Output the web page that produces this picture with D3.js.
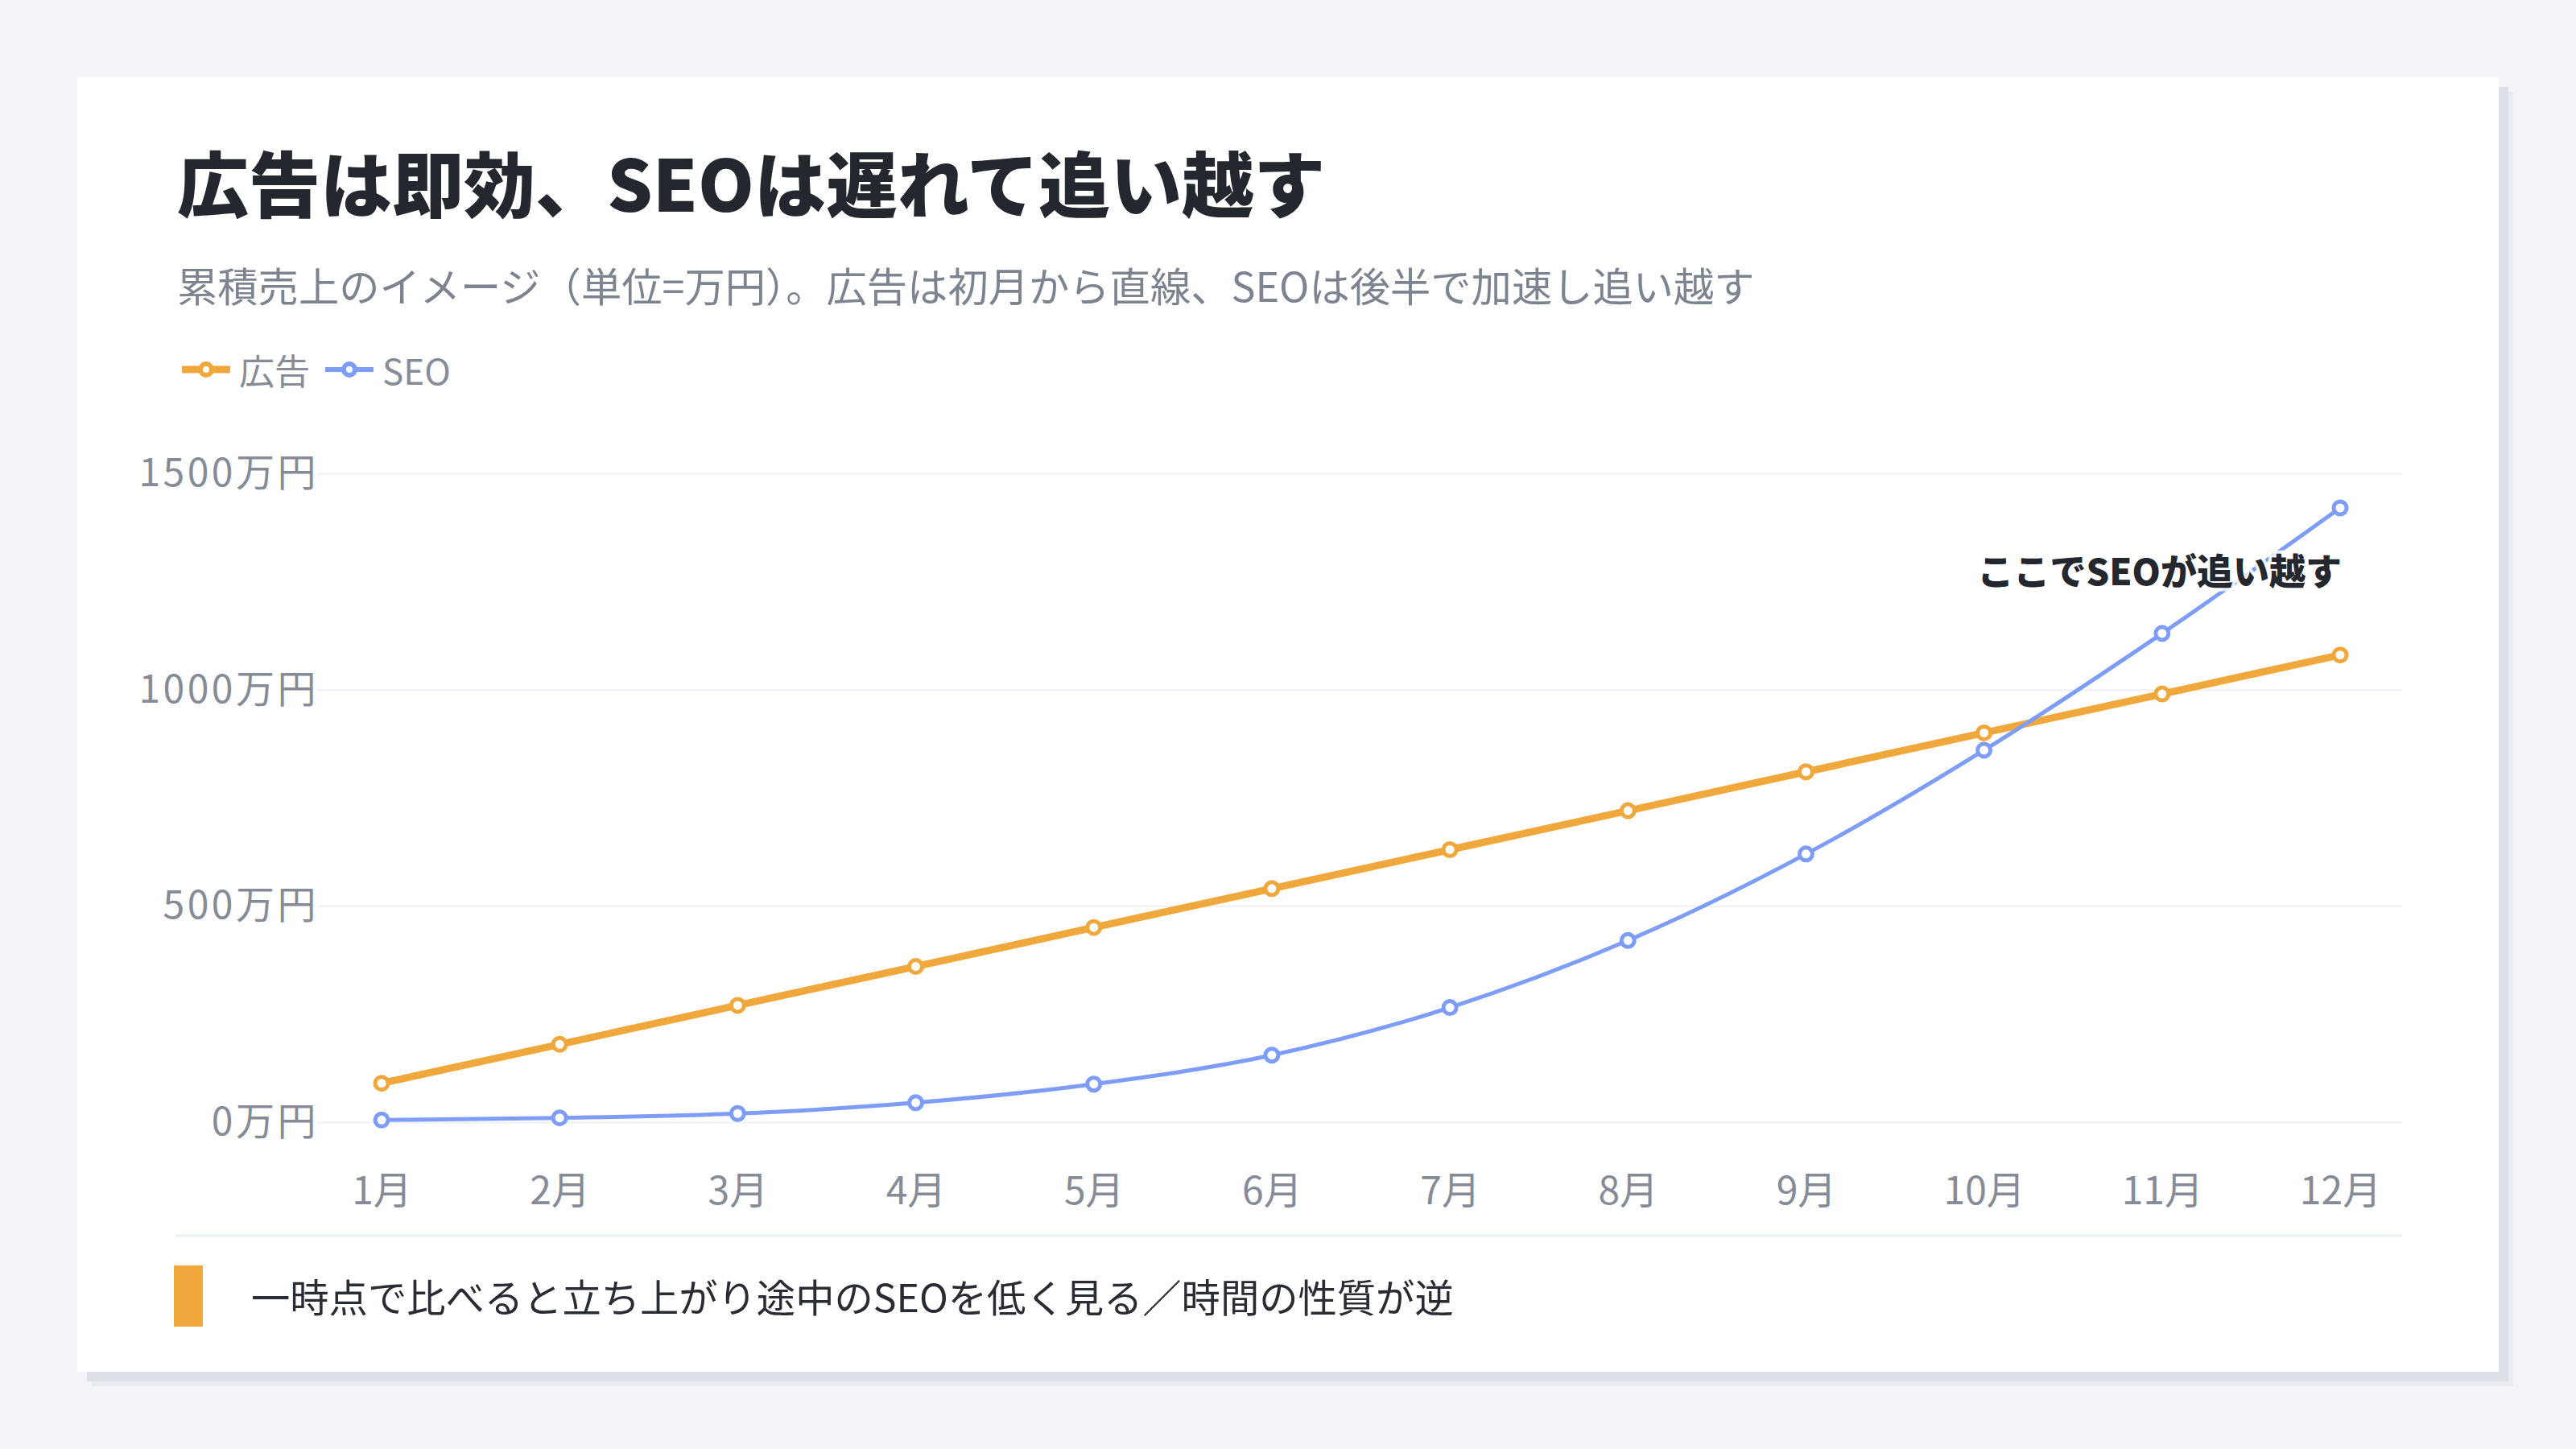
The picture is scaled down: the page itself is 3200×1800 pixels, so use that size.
<!DOCTYPE html>
<html lang="ja">
<head>
<meta charset="utf-8">
<title>広告は即効、SEOは遅れて追い越す</title>
<script src="https://cdn.jsdelivr.net/npm/d3@7"></script>
<style>
  body { margin: 0; background: #f3f4f8; }
  text { font-family: "Noto Sans CJK JP", "Noto Sans", sans-serif; }
</style>
</head>
<body>
<script>
// data (万円, cumulative)
var months = ["1月", "2月", "3月", "4月", "5月", "6月", "7月", "8月", "9月", "10月", "11月", "12月"];
var adSales = [90, 180, 270, 360, 450, 540, 630, 720, 810, 900, 990, 1080];
var seoSales = [5, 10, 20, 45, 88, 155, 265, 420, 620, 860, 1130, 1420];
var yTicks = [0, 500, 1000, 1500];
var seriesNames = ["広告", "SEO"];

var W = 3200, H = 1800;
var orange = "#f0a83c", blue = "#7d9df8";

var svg = d3.select("body").append("svg")
  .attr("width", W)
  .attr("height", H);

svg.append("rect").attr("width", W).attr("height", H).attr("fill", "#f3f4f8");

// card + hard shadow
svg.append("rect").attr("x", 114).attr("y", 114).attr("width", 3008).attr("height", 1608).attr("fill", "#e9ebf0");
svg.append("rect").attr("x", 108).attr("y", 108).attr("width", 3008).attr("height", 1608).attr("fill", "#dcdfe6");
svg.append("rect").attr("x", 96).attr("y", 96).attr("width", 3008).attr("height", 1608).attr("fill", "#ffffff");

// title + subtitle
svg.append("text")
  .attr("x", 220).attr("y", 224)
  .attr("dominant-baseline", "central")
  .attr("font-size", 89).attr("font-weight", 900)
  .attr("fill", "#25272e")
  .text("広告は即効、SEOは遅れて追い越す");

svg.append("text")
  .attr("x", 220).attr("y", 353)
  .attr("dominant-baseline", "central")
  .attr("font-size", 50.3)
  .attr("fill", "#7d838f")
  .text("累積売上のイメージ（単位=万円）。広告は初月から直線、SEOは後半で加速し追い越す");

// legend
var legendColors = [orange, blue];
var legendX = [226, 404];
var lg = svg.selectAll("g.legend").data(seriesNames).enter().append("g")
  .attr("class", "legend")
  .attr("transform", function(d, i) { return "translate(" + legendX[i] + ",459)"; });
lg.append("line")
  .attr("x1", 0).attr("x2", 60)
  .attr("stroke", function(d, i) { return legendColors[i]; })
  .attr("stroke-width", function(d, i) { return i == 0 ? 9 : 6; });
lg.append("circle")
  .attr("cx", 30).attr("r", 7)
  .attr("fill", "#fff")
  .attr("stroke", function(d, i) { return legendColors[i]; })
  .attr("stroke-width", 6);
lg.append("text")
  .attr("x", 71)
  .attr("dominant-baseline", "central")
  .attr("font-size", 44)
  .attr("fill", "#878c98")
  .text(function(d) { return d; });

// scales
var gridLeft = 394, gridRight = 2984;
var x = d3.scalePoint().domain(months).range([474, 2907]);
var y = d3.scaleLinear().domain([0, 1500]).range([1394, 588]);

// y axis + grid
var yAxis = svg.append("g")
  .attr("transform", "translate(" + gridLeft + ",0)")
  .call(d3.axisLeft(y).tickValues(yTicks).tickSize(-(gridRight - gridLeft)).tickPadding(-2)
    .tickFormat(function(d) { return d + "万円"; }));
yAxis.select(".domain").remove();
yAxis.selectAll(".tick line").attr("stroke", "#eef0f4").attr("stroke-width", 2);
yAxis.selectAll(".tick text")
  .attr("font-size", 48)
  .attr("letter-spacing", 3.5)
  .attr("fill", "#868b97")
  .attr("font-family", "\"Noto Sans CJK JP\", sans-serif");

// x axis
var xAxis = svg.append("g")
  .attr("transform", "translate(0,1394)")
  .call(d3.axisBottom(x).tickSize(0).tickPadding(68));
xAxis.select(".domain").remove();
xAxis.selectAll(".tick text")
  .attr("font-size", 48)
  .attr("fill", "#868b97")
  .attr("font-family", "\"Noto Sans CJK JP\", sans-serif");

// separator
svg.append("line")
  .attr("x1", 218).attr("x2", gridRight)
  .attr("y1", 1535).attr("y2", 1535)
  .attr("stroke", "#edf0f4").attr("stroke-width", 3);

// lines
var adLine = d3.line()
  .x(function(d, i) { return x(months[i]); })
  .y(function(d) { return y(d); });
var seoLine = d3.line()
  .x(function(d, i) { return x(months[i]); })
  .y(function(d) { return y(d); })
  .curve(d3.curveMonotoneX);

svg.append("path")
  .datum(adSales)
  .attr("d", adLine)
  .attr("fill", "none")
  .attr("stroke", orange)
  .attr("stroke-width", 9)
  .attr("stroke-linejoin", "round");

svg.append("path")
  .datum(seoSales)
  .attr("d", seoLine)
  .attr("fill", "none")
  .attr("stroke", blue)
  .attr("stroke-width", 5);

svg.selectAll("circle.ad")
  .data(adSales)
  .enter().append("circle")
  .attr("class", "ad")
  .attr("cx", function(d, i) { return x(months[i]); })
  .attr("cy", function(d) { return y(d); })
  .attr("r", 8)
  .attr("fill", "#fff")
  .attr("stroke", orange)
  .attr("stroke-width", 5);

svg.selectAll("circle.seo")
  .data(seoSales)
  .enter().append("circle")
  .attr("class", "seo")
  .attr("cx", function(d, i) { return x(months[i]); })
  .attr("cy", function(d) { return y(d); })
  .attr("r", 8)
  .attr("fill", "#fff")
  .attr("stroke", blue)
  .attr("stroke-width", 5);

// annotation
svg.append("text")
  .attr("x", x("12月") + 2).attr("y", 707)
  .attr("text-anchor", "end")
  .attr("dominant-baseline", "central")
  .attr("font-size", 45).attr("font-weight", 900)
  .attr("fill", "#25272e")
  .attr("stroke", "rgba(255,255,255,0.85)")
  .attr("stroke-width", 8)
  .attr("paint-order", "stroke")
  .text("ここでSEOが追い越す");

// footnote
svg.append("rect")
  .attr("x", 216).attr("y", 1572)
  .attr("width", 36).attr("height", 76)
  .attr("fill", orange);
svg.append("text")
  .attr("x", 312).attr("y", 1609)
  .attr("dominant-baseline", "central")
  .attr("font-size", 48.3)
  .attr("fill", "#2a2c33")
  .text("一時点で比べると立ち上がり途中のSEOを低く見る／時間の性質が逆");
</script>
</body>
</html>
